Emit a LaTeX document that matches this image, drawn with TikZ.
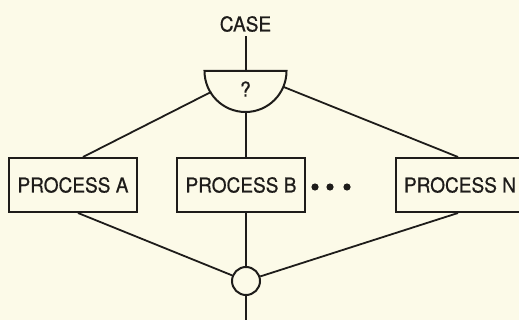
\documentclass[tikz,border=0pt]{standalone}
\usepackage{fontspec}
\setmainfont[FakeStretch=0.93, FakeBold=0.5]{TeX Gyre Heros}
\usetikzlibrary{calc}
\definecolor{paper}{HTML}{FCFAE8}
\definecolor{ink}{HTML}{1E1C1A}
\begin{document}
\begin{tikzpicture}[x=1pt,y=-1pt,
  every node/.style={font=\fontsize{20.5}{21}\selectfont, text=ink},
  procbox/.style={draw=ink, line width=2pt, minimum width=128, minimum height=54, inner sep=0pt},
  link/.style={draw=ink, line width=1.8pt},
  junction/.style={circle, draw=ink, line width=2pt, minimum size=28, inner sep=0pt}]
  % page
  \fill[paper] (0,0) rectangle (519,320);
  \useasboundingbox (0,0) rectangle (519,320);

  % entry label
  \node[inner sep=0pt] (case) at (245.5,24) {CASE};

  % decision: flat top, round bottom
  \coordinate (decTop) at (246,71);
  \coordinate (decBot) at (246,111.5);
  \coordinate (decL) at ($(decTop)+(149:40.5)$);
  \coordinate (decR) at ($(decTop)+(23:40.5)$);
  \draw[ink, line width=2pt] (204.5,71) -- (286.5,71)
    arc[start angle=0, end angle=180, radius=41] -- cycle;
  \node (q) at (245.5,89) {?};

  % branches
  \node[procbox] (A) at (73,185) {PROCESS A};
  \node[procbox] (B) at (241,185) {PROCESS B};
  \node[procbox] (N) at (460,185) {PROCESS N};
  \foreach \x/\n in {315/d1,330/d2,347/d3}
    \fill[ink] (\x,187) circle[radius=3.6] coordinate (\n);

  % merge point and exit
  \node[junction] (J) at (246,281) {};
  \coordinate (exit) at (246,322);

  % connectors
  \draw[link] ($(case.south)+(0.5,4)$) -- (decTop);
  \draw[link] (decL) -- ($(A.north)+(10,0)$);
  \draw[link] (decBot) -- (B.north -| decBot);
  \draw[link] (decR) -- ($(N.north)+(-2,0)$);
  \draw[link] ($(A.south)+(5,0)$) -- (J);
  \draw[link] (B.south -| J) -- (J);
  \draw[link] ($(N.south)+(-2,0)$) -- (J);
  \draw[link] (J) -- (exit);
\end{tikzpicture}
\end{document}
